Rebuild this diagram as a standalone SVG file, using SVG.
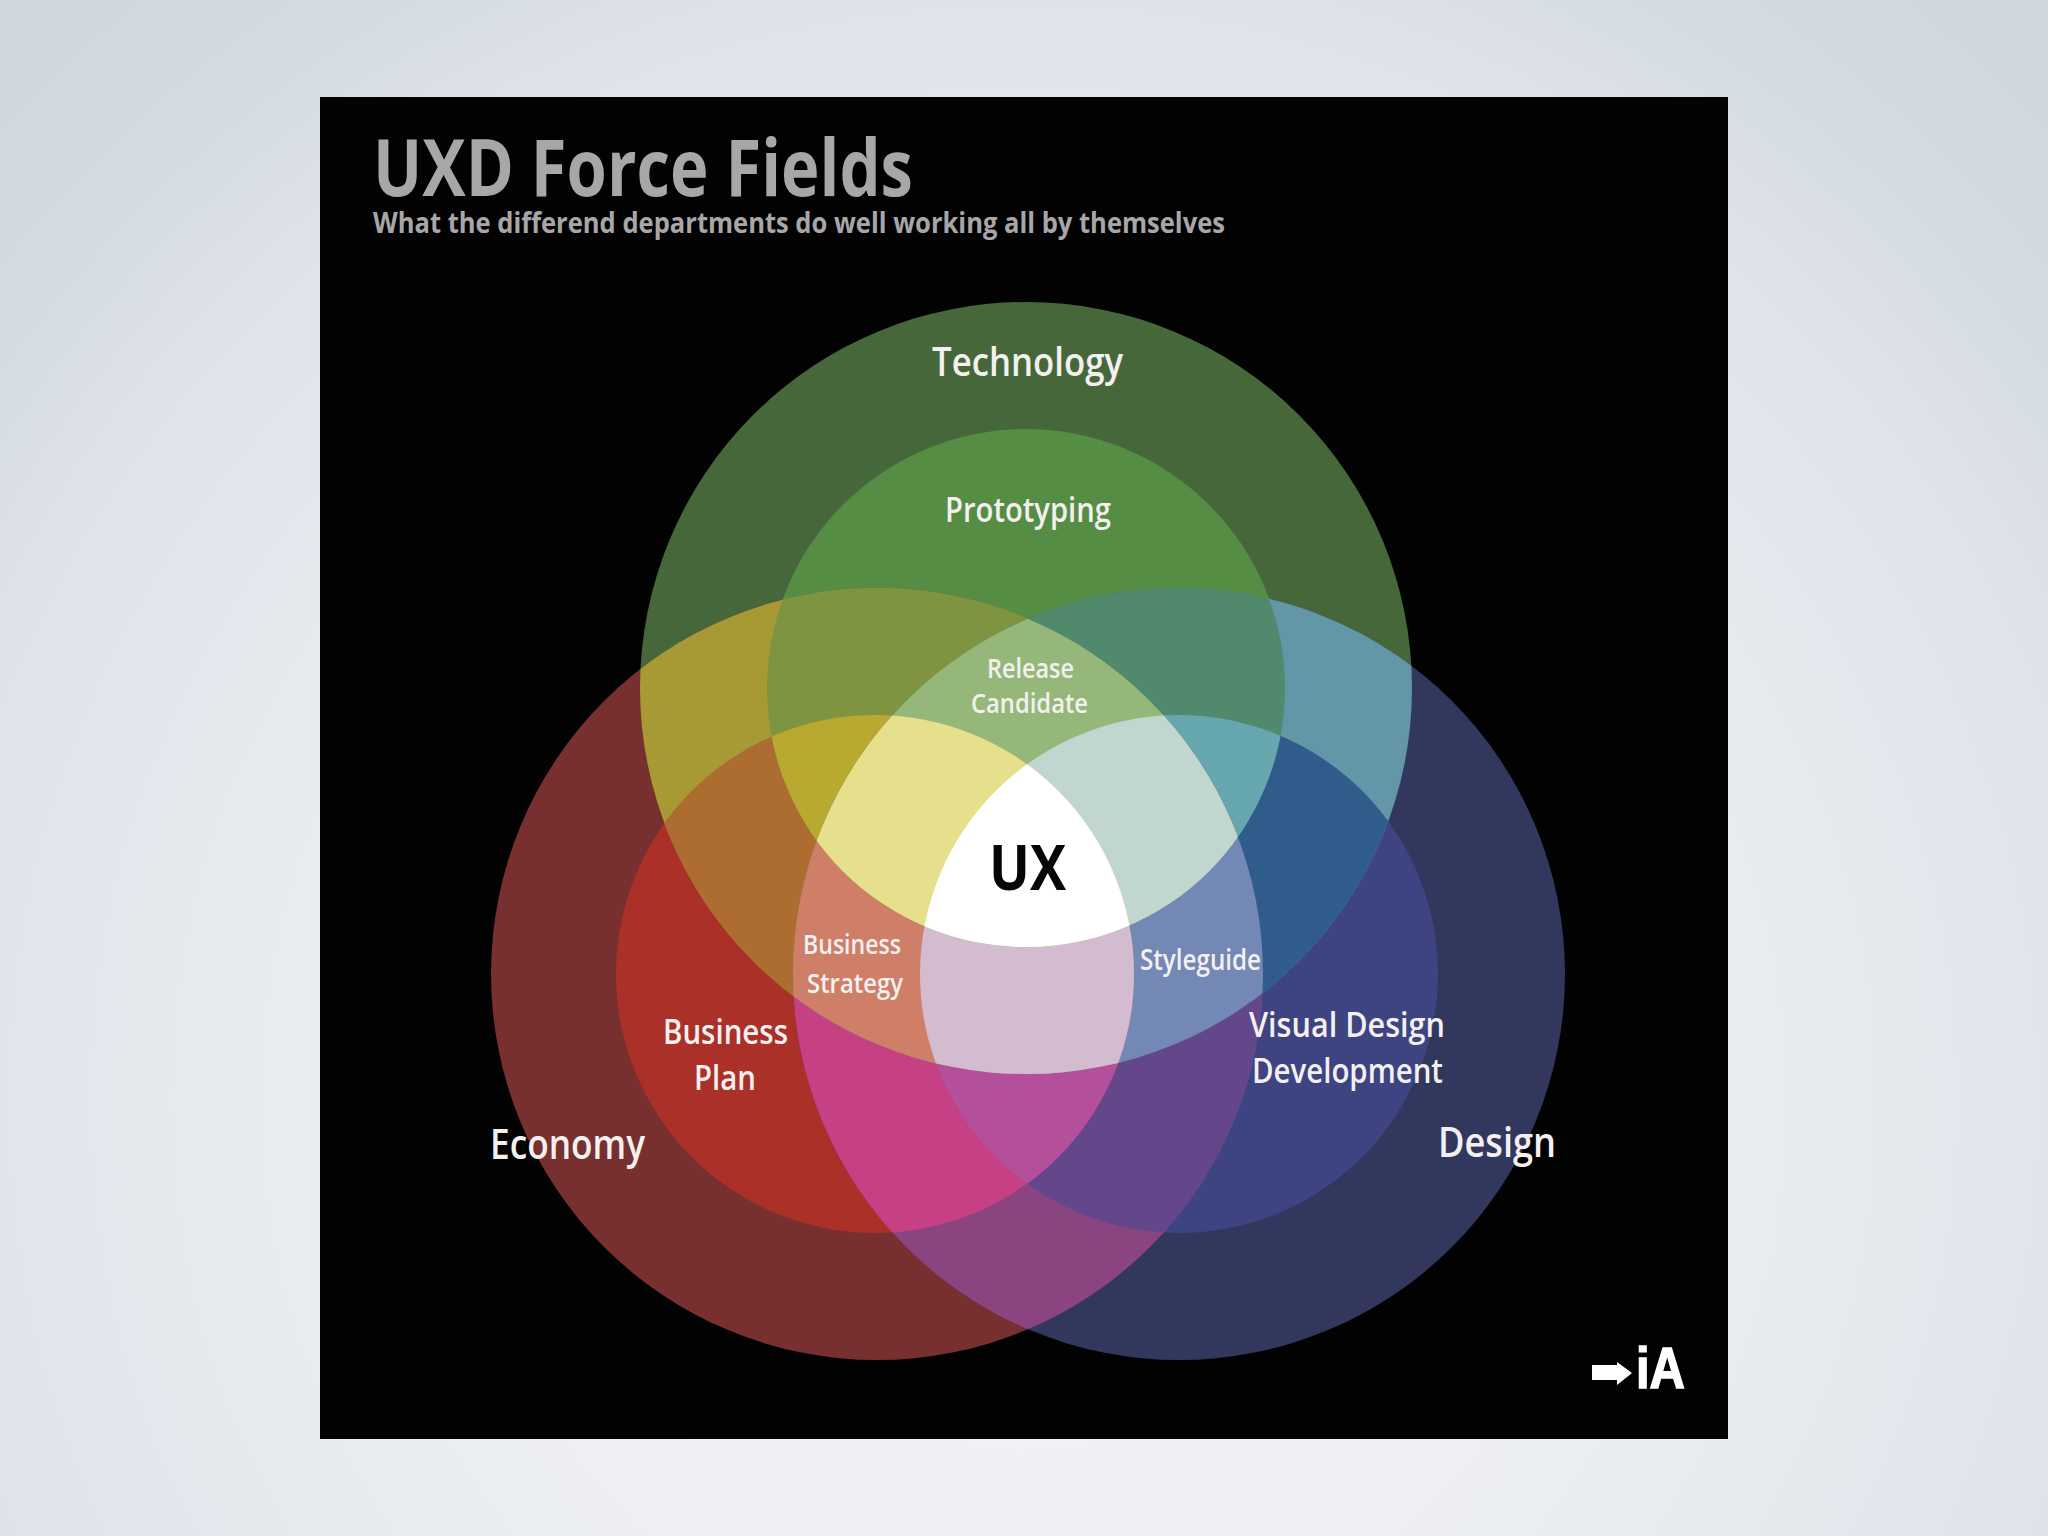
<svg xmlns="http://www.w3.org/2000/svg" width="2048" height="1536" viewBox="0 0 2048 1536">
<style>
.l{font-family:"Open Sans","Noto Sans","Liberation Sans",sans-serif;font-weight:600;fill:#f5f0f0}
.t{font-family:"Open Sans","Noto Sans","Liberation Sans",sans-serif;font-weight:700;fill:#a8a6a8}
</style>
<defs>
<radialGradient id="bg" gradientUnits="userSpaceOnUse" cx="1024" cy="1100" r="1500">
<stop offset="0" stop-color="#f2f3f6"/><stop offset="0.35" stop-color="#eef0f4"/><stop offset="0.73" stop-color="#e0e4ea"/><stop offset="0.85" stop-color="#d4dbe2"/><stop offset="1" stop-color="#cfd7de"/>
</radialGradient>
<clipPath id="E1"><circle cx="877" cy="974" r="386"/></clipPath>
<clipPath id="E2"><circle cx="875" cy="974" r="259"/></clipPath>
<clipPath id="D1"><circle cx="1179" cy="974" r="386"/></clipPath>
<clipPath id="D2"><circle cx="1179" cy="974" r="259"/></clipPath>
<clipPath id="T1"><circle cx="1026" cy="688" r="386"/></clipPath>
<clipPath id="T2"><circle cx="1026" cy="688" r="259"/></clipPath>
</defs>
<rect id="background" width="2048" height="1536" fill="url(#bg)"/>
<rect id="panel" x="320" y="97" width="1408" height="1342" fill="#030203"/>
<g id="title">
<text class="t" x="373" y="196" font-size="78" textLength="540" lengthAdjust="spacingAndGlyphs">UXD Force Fields</text>
<text class="t" x="373" y="233" font-size="29" textLength="852" lengthAdjust="spacingAndGlyphs">What the differend departments do well working all by themselves</text>
</g>
<g id="venn">
<g id="technology">
<circle cx="1026" cy="688" r="386" fill="#46673a"/>
<circle cx="1026" cy="688" r="259" fill="#568d45"/>
</g>
<g id="economy">
<circle cx="877" cy="974" r="386" fill="#782f2f"/>
<circle cx="875" cy="974" r="259" fill="#ab3028"/>
</g>
<g id="design">
<circle cx="1179" cy="974" r="386" fill="#32375e"/>
<circle cx="1179" cy="974" r="259" fill="#3e4482"/>
</g>
<g id="overlap-economy-design" clip-path="url(#E1)">
<circle cx="1179" cy="974" r="386" fill="#8a4580"/>
<circle cx="1179" cy="974" r="259" fill="#63478a"/>
<g clip-path="url(#E2)">
<circle cx="1179" cy="974" r="386" fill="#c54184"/>
<circle cx="1179" cy="974" r="259" fill="#b44f9b"/>
</g>
</g>
<g id="overlap-technology-economy" clip-path="url(#T1)">
<circle cx="877" cy="974" r="386" fill="#a79a35"/>
<circle cx="875" cy="974" r="259" fill="#ad6c30"/>
</g>
<g id="overlap-technology-inner-economy" clip-path="url(#T2)">
<circle cx="877" cy="974" r="386" fill="#7f9440"/>
<circle cx="875" cy="974" r="259" fill="#baa931"/>
</g>
<g id="overlap-technology-design" clip-path="url(#T1)">
<circle cx="1179" cy="974" r="386" fill="#6397a8"/>
<circle cx="1179" cy="974" r="259" fill="#305c8c"/>
</g>
<g id="overlap-technology-inner-design" clip-path="url(#T2)">
<circle cx="1179" cy="974" r="386" fill="#50896b"/>
<circle cx="1179" cy="974" r="259" fill="#66a6af"/>
</g>
<g id="overlap-all-outer" clip-path="url(#T1)">
<g clip-path="url(#E1)">
<circle cx="1179" cy="974" r="259" fill="#7388b5"/>
</g>
<g clip-path="url(#E2)">
<circle cx="1179" cy="974" r="386" fill="#cf7f67"/>
<circle cx="1179" cy="974" r="259" fill="#d4bcd0"/>
</g>
</g>
<g id="overlap-all-inner" clip-path="url(#T2)">
<g clip-path="url(#E1)">
<circle cx="1179" cy="974" r="386" fill="#95b87a"/>
<circle cx="1179" cy="974" r="259" fill="#c0d6cf"/>
</g>
<g clip-path="url(#E2)">
<circle cx="1179" cy="974" r="386" fill="#e6df8c"/>
<circle cx="1179" cy="974" r="259" fill="#ffffff"/>
</g>
</g>
</g>
<g id="labels">
<text class="l" x="932" y="376" font-size="40" textLength="191" lengthAdjust="spacingAndGlyphs">Technology</text>
<text class="l" x="945" y="522" font-size="35" textLength="166" lengthAdjust="spacingAndGlyphs">Prototyping</text>
<text class="l" x="987" y="678" font-size="27" textLength="87" lengthAdjust="spacingAndGlyphs">Release</text>
<text class="l" x="971" y="713" font-size="27" textLength="117" lengthAdjust="spacingAndGlyphs">Candidate</text>
<text x="989" y="890" font-family="'Open Sans','Liberation Sans',sans-serif" font-weight="700" font-size="63" fill="#060606" textLength="77" lengthAdjust="spacingAndGlyphs">UX</text>
<text class="l" x="803" y="954" font-size="27" textLength="98" lengthAdjust="spacingAndGlyphs">Business</text>
<text class="l" x="807" y="993" font-size="27" textLength="96" lengthAdjust="spacingAndGlyphs">Strategy</text>
<text class="l" x="1140" y="970" font-size="29" textLength="121" lengthAdjust="spacingAndGlyphs">Styleguide</text>
<text class="l" x="663" y="1044" font-size="35" textLength="125" lengthAdjust="spacingAndGlyphs">Business</text>
<text class="l" x="694" y="1090" font-size="35" textLength="62" lengthAdjust="spacingAndGlyphs">Plan</text>
<text class="l" x="1249" y="1037" font-size="35" textLength="196" lengthAdjust="spacingAndGlyphs">Visual Design</text>
<text class="l" x="1252" y="1083" font-size="35" textLength="191" lengthAdjust="spacingAndGlyphs">Development</text>
<text class="l" x="490" y="1159" font-size="41" textLength="155" lengthAdjust="spacingAndGlyphs">Economy</text>
<text class="l" x="1438" y="1157" font-size="41" textLength="118" lengthAdjust="spacingAndGlyphs">Design</text>
</g>
<g id="ia-logo">
<polygon points="1592,1365 1617,1365 1617,1362 1632,1373 1617,1385 1617,1380 1592,1380" fill="#fff"/>
<text x="1636" y="1388" font-family="'Liberation Sans',sans-serif" font-weight="700" font-size="57" fill="#fff" stroke="#fff" stroke-width="1.5" textLength="49" lengthAdjust="spacingAndGlyphs">iA</text>
</g>
</svg>
